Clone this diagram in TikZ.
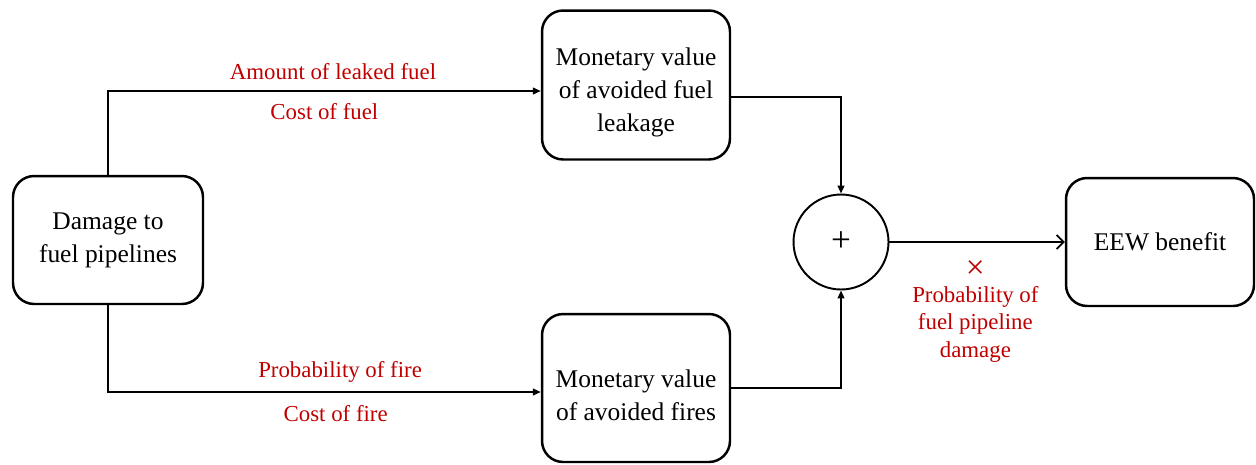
\documentclass[tikz,border=0pt]{standalone}
\usepackage{fontspec}
\setmainfont{Liberation Serif}
\usepackage{tikz}
\usetikzlibrary{positioning,arrows.meta}
\definecolor{LabelRed}{HTML}{C00000}

\begin{document}
\begin{tikzpicture}[x=0.02cm, y=-0.02cm,
  every node/.style={font=\fontsize{14.5}{18.7}\selectfont},
  box/.style={draw, line width=1.4pt, rounded corners=12pt, minimum width=3.76cm,
    minimum height=2.56cm, align=center, inner sep=2pt},
  sumnode/.style={draw, line width=1.1pt, circle, minimum size=1.9cm, inner sep=0pt,
    font=\fontsize{20}{24}\selectfont},
  conn/.style={line width=1pt, -{Triangle[length=4.5pt, width=3.8pt]}},
  lbl/.style={text=LabelRed, inner sep=0pt, align=center,
    font=\fontsize{13}{15.9}\selectfont}]
  \useasboundingbox (0,0) rectangle (1256,464);
  \node[box, minimum width=3.8cm] (dmg) at (108,240) {Damage to\\fuel pipelines};
  \node[box, minimum height=2.98cm, text height=55.5pt] (leak) at (636,85)
    {Monetary value\\of avoided fuel\\leakage};
  \node[box, minimum height=2.96cm, text height=37.3pt] (fire) at (636,388)
    {Monetary value\\of avoided fires};
  \node[sumnode] (sum) at (841,242) {+};
  \node[box] (eew) at (1160,242) {EEW benefit};
  % inputs from the damage box
  \draw[conn] (dmg.north) |- ([yshift=-0.12cm]leak.west)
    node[lbl, pos=0.76, above=5.7pt] {Amount of leaked fuel}
    node[lbl, pos=0.75, below=6.3pt] {Cost of fuel};
  \draw[conn] (dmg.south) |- ([yshift=-0.08cm]fire.west)
    node[lbl, pos=0.76, above=5pt, xshift=4pt] {Probability of fire}
    node[lbl, pos=0.76, below=7.4pt, xshift=1.5pt] {Cost of fire};
  % summation
  \draw[conn] ([yshift=-0.24cm]leak.east) -| (sum.north);
  \draw[conn] (fire.east) -| (sum.south);
  \draw[line width=1pt, -{Straight Barb[length=4pt, width=8pt]}] (sum.east) -- (eew.west)
    node[lbl, midway, below=10pt, xshift=-1pt, font=\fontsize{13}{15.6}\selectfont]
    {{\fontsize{19}{19}\selectfont ×}\\[-2pt]Probability of\\fuel pipeline\\damage};
\end{tikzpicture}
\end{document}
